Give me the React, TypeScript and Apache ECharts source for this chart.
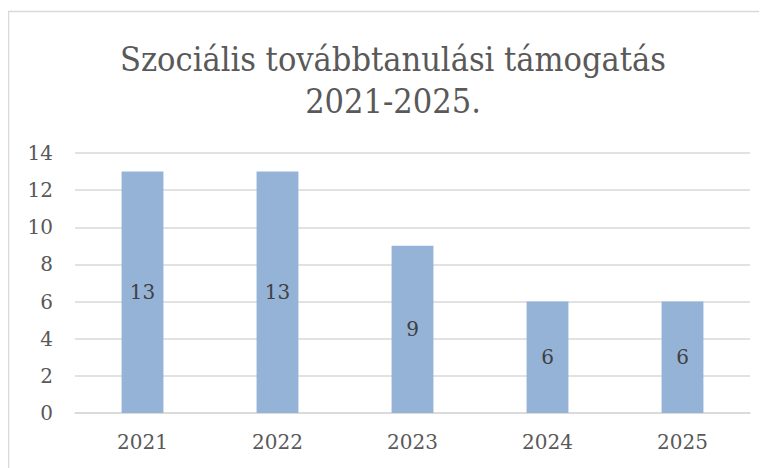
import React, { useEffect, useRef } from "react";
import * as echarts from "echarts";

const categories = ["2021", "2022", "2023", "2024", "2025"];
const values = [13, 13, 9, 6, 6];
const titleLines = ["Szociális továbbtanulási támogatás", "2021-2025."];

export default function App() {
  const ref = useRef<HTMLDivElement>(null);
  useEffect(() => {
    if (!ref.current) return;
    const chart = echarts.init(ref.current, null, { renderer: "svg" });
    const font = "'DejaVu Serif', serif";
    const titleFont = "'DejaVu Serif Condensed', 'DejaVu Serif', serif";
    chart.setOption({
      animation: false,
      backgroundColor: "#ffffff",
      title: {
        text: titleLines.join("\n"),
        left: 380,
        textAlign: "center",
        top: 25,
        textStyle: {
          fontFamily: titleFont,
          fontSize: 34,
          fontWeight: "normal",
          color: "#595959",
          lineHeight: 42,
        },
      },
      graphic: [
        {
          type: "rect",
          shape: { x: 0.5, y: 3.5, width: 900, height: 600 },
          style: { fill: "none", stroke: "#d9d9d9", lineWidth: 1.5 },
          silent: true,
          z: 100,
        },
      ],
      grid: { left: 67, right: 17, top: 145, bottom: 55 },
      xAxis: {
        type: "category",
        data: categories,
        axisLine: { lineStyle: { color: "#d9d9d9", width: 1.5 } },
        axisTick: { show: false },
        axisLabel: { fontFamily: font, fontSize: 20, color: "#595959", margin: 19 },
      },
      yAxis: {
        type: "value",
        min: 0,
        max: 14,
        interval: 2,
        axisLine: { show: false },
        axisTick: { show: false },
        splitLine: { lineStyle: { color: "#d9d9d9", width: 1.5 } },
        axisLabel: { fontFamily: font, fontSize: 20, color: "#595959", margin: 22 },
      },
      series: [
        {
          type: "bar",
          data: values,
          barWidth: "31%",
          itemStyle: { color: "#95b3d7" },
          label: {
            show: true,
            position: "inside",
            fontFamily: font,
            fontSize: 20,
            color: "#404040",
          },
        },
      ],
    });
    return () => chart.dispose();
  }, []);
  return <div ref={ref} style={{ width: 759, height: 460 }} />;
}
